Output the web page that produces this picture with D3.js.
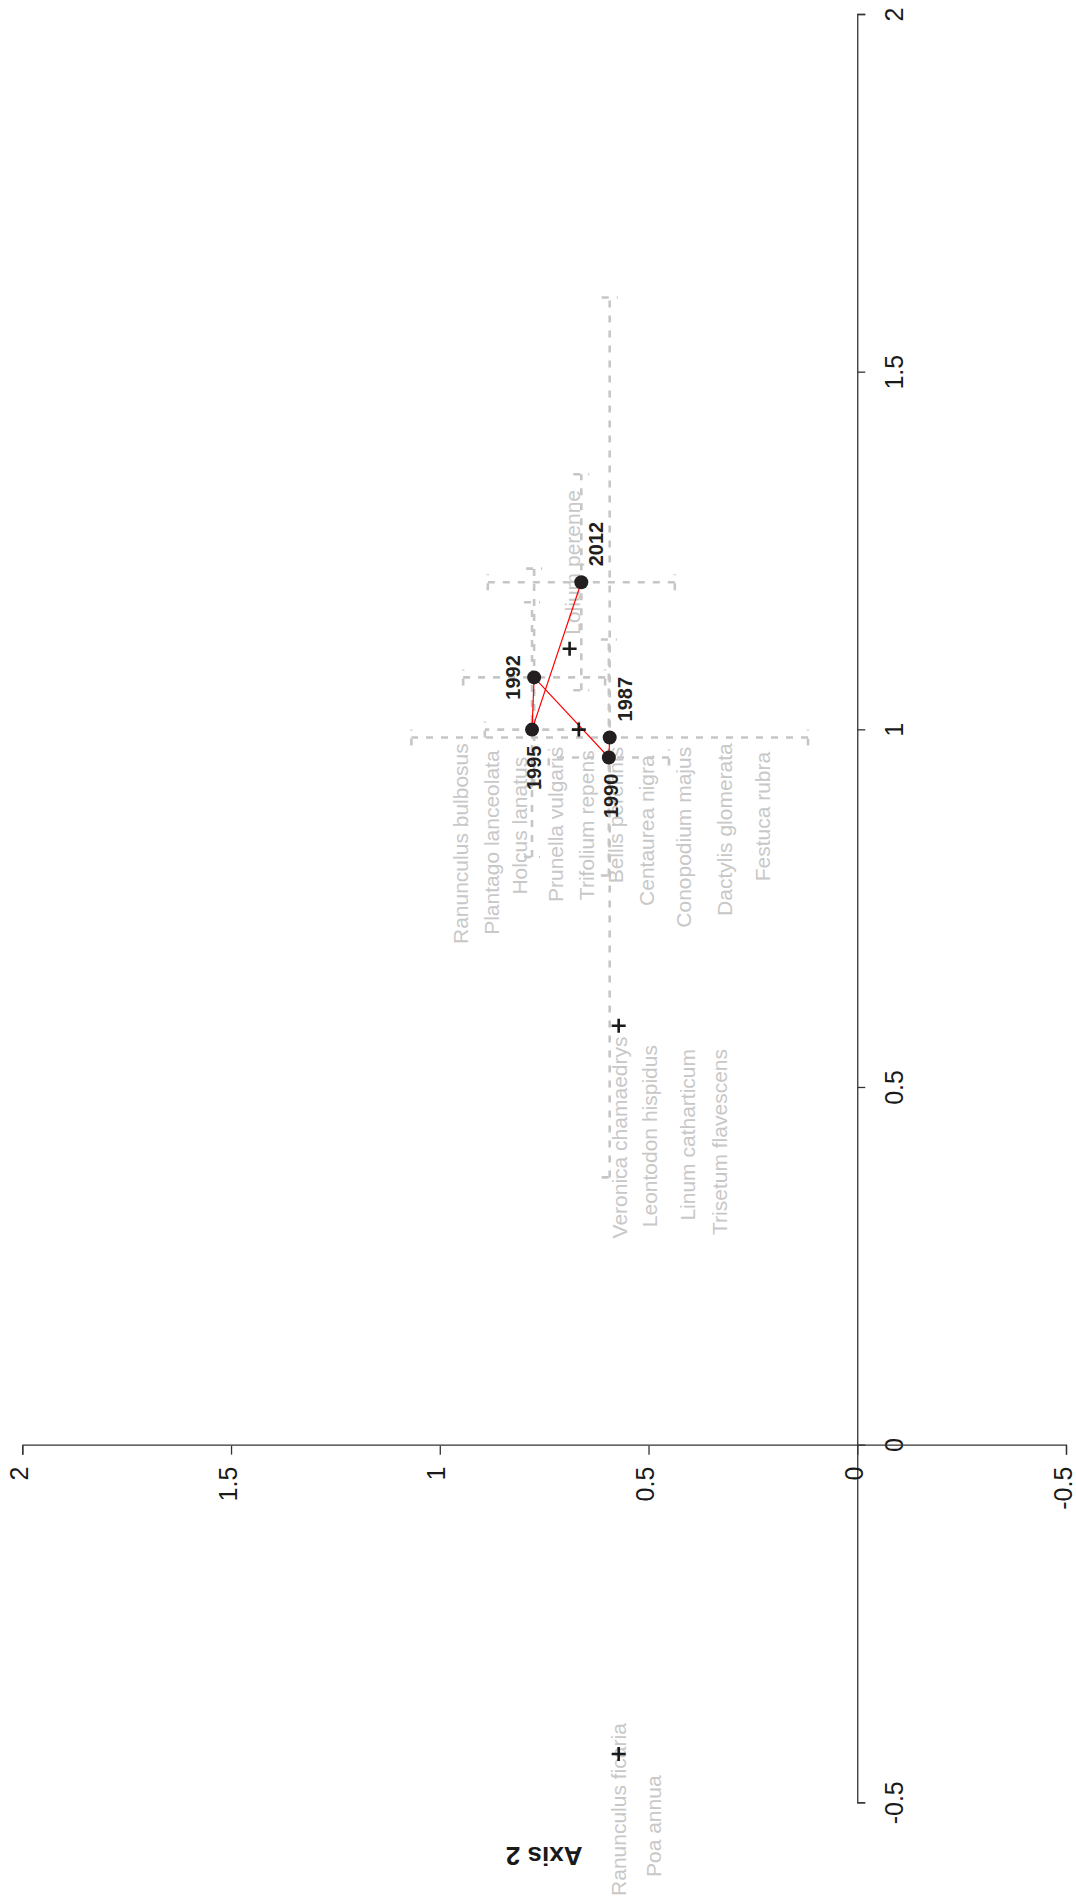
<!DOCTYPE html>
<html>
<head>
<meta charset="utf-8">
<script src="https://cdn.jsdelivr.net/npm/d3@7"></script>
<style>
  html, body { margin: 0; padding: 0; background: #ffffff; }
  svg { display: block; }
</style>
</head>
<body>
<div id="chart"></div>
<script>
// ---------------- data ----------------
const tickValues = [-0.5, 0, 0.5, 1, 1.5, 2];
const tickLabels = ["-0.5", "0", "0.5", "1", "1.5", "2"];

// year (sample) scores: Axis 1, Axis 2, and their error half-widths
const years      = ["1987", "1990", "1992", "1995", "2012"];
const yearAxis1  = [0.990, 0.962, 1.074, 1.001, 1.207];
const yearAxis2  = [0.593, 0.595, 0.774, 0.779, 0.661];
const yearErr1   = [0.615, 0.165, 0.152, 0.178, 0.151];
const yearErr2   = [0.475, 0.144, 0.170, 0.113, 0.224];
const yearLabelPos = ["right", "left", "above", "left", "right"];

// species points (+)
const speciesPtAxis1 = [1.114, 1.001, 0.587, -0.431];
const speciesPtAxis2 = [0.689, 0.667, 0.5715, 0.5715];

// species labels (anchored at end of text)
const speciesNames = [
  "Ranunculus bulbosus", "Plantago lanceolata", "Holcus lanatus", "Prunella vulgaris",
  "Trifolium repens", "Bellis perennis", "Centaurea nigra", "Conopodium majus",
  "Dactylis glomerata", "Festuca rubra",
  "Veronica chamaedrys", "Leontodon hispidus", "Linum catharticum", "Trisetum flavescens",
  "Lolium perenne", "Ranunculus ficaria", "Poa annua"
];
const speciesAxis1 = [0.982, 0.972, 0.963, 0.977, 0.972, 0.977, 0.965, 0.977, 0.982, 0.970,
                      0.572, 0.560, 0.5545, 0.5545, 1.336, -0.388, -0.461];
const speciesAxis2 = [0.933, 0.859, 0.792, 0.706, 0.631, 0.560, 0.488, 0.399, 0.299, 0.208,
                      0.552, 0.4805, 0.3895, 0.313, 0.665, 0.553, 0.469];

const axis2Title = "Axis 2";

// ---------------- layout ----------------
const W = 1076, H = 1903;          // screen
const font = "'Liberation Sans', Arial, Helvetica, sans-serif";

const svg = d3.select("#chart").append("svg")
  .attr("width", W).attr("height", H)
  .attr("viewBox", `0 0 ${W} ${H}`);

// whole figure rotated 90° counter-clockwise
const g = svg.append("g").attr("transform", `translate(0,${H}) rotate(-90)`);

const x = d3.scaleLinear().domain([-0.5, 2]).range([99.7, 1888]);   // Axis 1
const y = d3.scaleLinear().domain([-0.5, 2]).range([1066, 22.3]);   // Axis 2

// ---------------- axes ----------------
const xAxis = d3.axisBottom(x).tickValues(tickValues)
  .tickFormat((d, i) => tickLabels[i]).tickSize(8).tickPadding(20);
const gx = g.append("g").attr("transform", `translate(0,${y(0)})`).call(xAxis);

const yAxis = d3.axisLeft(y).tickValues(tickValues)
  .tickFormat((d, i) => tickLabels[i]).tickSize(9).tickPadding(12);
const gy = g.append("g").attr("transform", `translate(${x(0)},0)`).call(yAxis);

[gx, gy].forEach(a => {
  a.attr("font-family", font).attr("font-size", 25);
  a.selectAll("path, line").attr("stroke", "#333").attr("stroke-width", 1.3);
  a.selectAll("text").attr("fill", "#1a1a1a");
});
gy.selectAll("text").attr("dy", "0.2em");

g.append("text")
  .attr("transform", `translate(56,${y(0.75)}) rotate(-90)`)
  .attr("text-anchor", "middle")
  .attr("font-family", font).attr("font-size", 26).attr("font-weight", "bold")
  .attr("fill", "#1a1a1a")
  .text(axis2Title);

// ---------------- error bars (dashed grey) ----------------
const barG = g.append("g")
  .attr("stroke", "#c6c6c6").attr("stroke-width", 2.6)
  .attr("stroke-dasharray", "7,8").attr("fill", "none");
const cap = 8;
years.forEach((yr, i) => {
  const cx = x(yearAxis1[i]), cy = y(yearAxis2[i]);
  const u0 = x(yearAxis1[i] - yearErr1[i]), u1 = x(yearAxis1[i] + yearErr1[i]);
  const v0 = y(yearAxis2[i] - yearErr2[i]), v1 = y(yearAxis2[i] + yearErr2[i]);
  // Axis 1 bar
  barG.append("line").attr("x1", u0).attr("x2", u1).attr("y1", cy).attr("y2", cy);
  barG.append("line").attr("x1", u0).attr("x2", u0).attr("y1", cy - cap).attr("y2", cy + cap);
  barG.append("line").attr("x1", u1).attr("x2", u1).attr("y1", cy - cap).attr("y2", cy + cap);
  // Axis 2 bar
  barG.append("line").attr("x1", cx).attr("x2", cx).attr("y1", v0).attr("y2", v1);
  barG.append("line").attr("x1", cx - cap).attr("x2", cx + cap).attr("y1", v0).attr("y2", v0);
  barG.append("line").attr("x1", cx - cap).attr("x2", cx + cap).attr("y1", v1).attr("y2", v1);
});

// ---------------- species labels ----------------
g.append("g").selectAll("text").data(speciesNames).join("text")
  .attr("x", (d, i) => x(speciesAxis1[i]))
  .attr("y", (d, i) => y(speciesAxis2[i]))
  .attr("text-anchor", "end")
  .attr("font-family", font).attr("font-size", 21)
  .attr("fill", "#c8c8c8")
  .text(d => d);

// ---------------- trajectory ----------------
const line = d3.line().x(d => x(d[0])).y(d => y(d[1]));
g.append("path")
  .datum(years.map((yr, i) => [yearAxis1[i], yearAxis2[i]]))
  .attr("d", line)
  .attr("fill", "none").attr("stroke", "#ff0000").attr("stroke-width", 1.2);

// ---------------- species points (+) ----------------
const pl = 7;
g.append("g").selectAll("path").data(speciesPtAxis1).join("path")
  .attr("d", (d, i) => {
    const px = x(d), py = y(speciesPtAxis2[i]);
    return `M${px - pl},${py}H${px + pl}M${px},${py - pl}V${py + pl}`;
  })
  .attr("stroke", "#1a1a1a").attr("stroke-width", 2.6).attr("fill", "none");

// ---------------- year points ----------------
g.append("g").selectAll("circle").data(years).join("circle")
  .attr("cx", (d, i) => x(yearAxis1[i]))
  .attr("cy", (d, i) => y(yearAxis2[i]))
  .attr("r", 7)
  .attr("fill", "#231f20");

const off = {
  right: { dx: 16, dy: 22, anchor: "start" },
  left:  { dx: -16, dy: 9, anchor: "end" },
  above: { dx: 0, dy: -14, anchor: "middle" }
};
g.append("g").selectAll("text").data(years).join("text")
  .attr("x", (d, i) => x(yearAxis1[i]) + off[yearLabelPos[i]].dx)
  .attr("y", (d, i) => y(yearAxis2[i]) + off[yearLabelPos[i]].dy)
  .attr("text-anchor", (d, i) => off[yearLabelPos[i]].anchor)
  .attr("font-family", font).attr("font-size", 20).attr("font-weight", "bold")
  .attr("fill", "#231f20")
  .text(d => d);
</script>
</body>
</html>
